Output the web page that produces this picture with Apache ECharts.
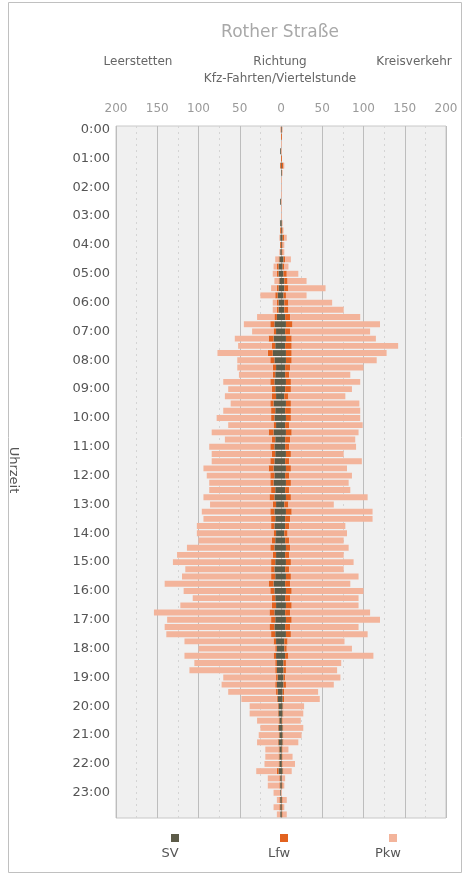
<!DOCTYPE html>
<html>
<head>
<meta charset="utf-8">
<script src="https://cdn.jsdelivr.net/npm/echarts@6/dist/echarts.min.js"></script>
<style>
html,body{margin:0;padding:0;background:#fff;}
#chart{width:466px;height:877px;}
</style>
</head>
<body>
<div id="chart"></div>
<script>
// Hour labels shown on the time axis (one per 4 quarter-hour slots)
const hourLabels = ['0:00','01:00','02:00','03:00','04:00','05:00','06:00','07:00','08:00','09:00','10:00','11:00',
  '12:00','13:00','14:00','15:00','16:00','17:00','18:00','19:00','20:00','21:00','22:00','23:00'];
const xTickLabels = ['200','150','100','50','0','50','100','150','200'];
const seriesNames = ['SV','Lfw','Pkw'];

// Direction Leerstetten (drawn to the left), vehicles per quarter hour
const leftSV = [0,0,0,1,0,0,0,0,0,0,1,0,0,1,0,1,0,1,
  2,3,3,2,3,4,
  3,3,5,8,6,9,7,10,
  8,6,7,8,7,6,9,7,8,6,9,7,8,7,8,9,
  8,9,7,8,6,8,7,8,6,7,8,6,7,8,7,9,
  8,7,6,8,7,8,7,6,5,6,5,5,4,5,4,4,
  3,3,2,3,2,3,2,2,2,3,1,1,1,1,1,1];
const leftLfw = [0,0,0,0,0,1,0,0,0,0,0,0,0,0,1,0,1,0,
  1,2,2,1,2,3,
  2,2,3,5,3,6,4,6,
  5,4,3,5,4,5,4,5,4,3,6,4,5,4,5,6,
  5,4,5,6,4,5,5,4,3,4,5,4,5,4,5,6,
  5,4,5,6,5,6,5,3,2,3,2,2,2,2,2,1,
  1,1,1,1,1,1,1,1,1,2,1,1,0,1,1,0];
const leftPkw = [1,0,0,0,0,0,0,0,0,0,0,0,0,0,0,1,0,1,
  4,4,5,5,7,18,
  5,5,21,32,26,41,41,61,
  40,43,41,57,53,57,48,58,66,55,69,57,74,73,71,79,
  77,74,75,80,76,83,82,90,93,89,101,116,119,104,108,126,
  105,96,111,140,126,127,127,108,93,108,98,104,64,65,58,43,
  34,34,26,21,24,25,16,16,17,25,14,14,8,3,7,4];

// Direction Kreisverkehr (drawn to the right)
const rightSV = [1,0,0,0,0,1,1,0,0,0,0,0,0,1,1,2,1,1,
  3,2,3,4,4,3,
  4,4,5,6,5,6,5,6,
  6,5,5,6,5,4,6,5,6,5,6,5,5,6,5,6,
  5,6,5,6,4,6,5,5,4,5,6,5,6,5,6,5,
  6,5,6,5,6,5,6,4,4,5,3,3,3,3,2,2,
  2,2,1,2,2,2,1,1,1,2,1,1,0,1,1,1];
const rightLfw = [0,1,0,0,1,2,0,0,0,0,0,0,0,0,1,2,1,1,
  2,2,4,4,5,3,
  5,5,6,8,6,7,8,7,
  7,6,5,6,7,5,6,7,6,5,7,6,5,6,5,6,
  5,6,5,6,5,7,6,5,4,5,5,5,6,5,6,6,
  7,6,7,6,7,6,6,4,3,4,3,3,2,3,2,2,
  1,1,1,1,1,1,1,1,1,1,0,1,0,1,1,1];
const rightPkw = [1,0,1,1,0,1,1,1,1,1,1,1,1,1,1,3,2,2,
  7,5,14,23,45,25,
  53,67,85,106,97,102,129,115,
  103,89,74,84,74,69,83,84,84,89,81,79,81,64,88,68,
  76,70,74,93,55,98,100,68,72,66,71,66,76,66,82,73,
  87,83,81,97,107,83,93,69,79,103,67,62,67,58,41,43,
  25,24,22,24,22,18,7,12,15,10,4,2,1,5,2,5];

const colors = {SV:'#5c5b48', Lfw:'#e2621f', Pkw:'#f3b49b'};

const categories = [];
for (let h = 0; h < 24; h++) for (let q = 0; q < 4; q++) categories.push(h + ':' + (q * 15 === 0 ? '00' : q * 15));

const FONT = 'DejaVu Sans';
const chart = echarts.init(document.getElementById('chart'), null, {renderer:'canvas'});

function barSeries(name, data, sign) {
  return {
    name: name, type: 'bar', stack: 'total', barCategoryGap: '18%',
    data: data.map(v => sign * v),
    itemStyle: {color: colors[name]},
    emphasis: {disabled: true},
    animation: false
  };
}

const legends = seriesNames.map((n, i) => ({
  data: [n], left: 166 + i * 109, top: 829, icon: 'rect', itemWidth: 8, itemHeight: 8,
  formatter: () => '', selectedMode: false
}));

const option = {
  backgroundColor: '#fff',
  animation: false,
  grid: {left: 116, right: 20, top: 126, height: 692, show: true, backgroundColor: '#f0f0f0', borderColor: '#c8c8c8', borderWidth: 1},
  legend: legends,
  xAxis: {
    type: 'value', position: 'top', min: -200, max: 200, interval: 50,
    axisLine: {show: false}, axisTick: {show: false},
    axisLabel: {color: '#9a9a9a', fontSize: 12, fontFamily: FONT, margin: 11,
      formatter: (v) => xTickLabels[Math.round((v + 200) / 50)]},
    splitLine: {show: true, lineStyle: {color: '#bdbdbd', width: 1}},
    minorTick: {show: false, splitNumber: 2},
    minorSplitLine: {show: true, lineStyle: {color: '#d4d4d4', type: [2, 4], width: 1}}
  },
  yAxis: {
    type: 'category', data: categories, inverse: true,
    axisLine: {show: false}, axisTick: {show: false},
    axisLabel: {interval: 3, color: '#555', fontSize: 13, fontFamily: FONT, margin: 6,
      formatter: (v, i) => hourLabels[Math.floor(i / 4)]},
    splitLine: {show: false}
  },
  series: [
    barSeries('SV', leftSV, -1), barSeries('Lfw', leftLfw, -1), barSeries('Pkw', leftPkw, -1),
    barSeries('SV', rightSV, 1), barSeries('Lfw', rightLfw, 1), barSeries('Pkw', rightPkw, 1)
  ],
  graphic: [
    {type: 'rect', shape: {x: 8.5, y: 2.5, width: 453, height: 870}, style: {fill: 'none', stroke: '#c0c0c0', lineWidth: 1}, silent: true},
    {type: 'text', x: 280, y: 33, style: {text: 'Rother Straße', fill: '#a8a8a8', font: '17px "' + FONT + '"', textAlign: 'center', textVerticalAlign: 'middle'}},
    {type: 'text', x: 138, y: 62, style: {text: 'Leerstetten', fill: '#666', font: '12px "' + FONT + '"', textAlign: 'center', textVerticalAlign: 'middle'}},
    {type: 'text', x: 280, y: 62, style: {text: 'Richtung', fill: '#666', font: '12px "' + FONT + '"', textAlign: 'center', textVerticalAlign: 'middle'}},
    {type: 'text', x: 280, y: 79, style: {text: 'Kfz-Fahrten/Viertelstunde', fill: '#666', font: '12px "' + FONT + '"', textAlign: 'center', textVerticalAlign: 'middle'}},
    {type: 'text', x: 414, y: 62, style: {text: 'Kreisverkehr', fill: '#666', font: '12px "' + FONT + '"', textAlign: 'center', textVerticalAlign: 'middle'}},
    {type: 'text', x: 13, y: 470, rotation: -Math.PI / 2, style: {text: 'Uhrzeit', fill: '#555', font: '13px "' + FONT + '"', textAlign: 'center', textVerticalAlign: 'middle'}},
    {type: 'text', x: 170, y: 854, style: {text: 'SV', fill: '#555', font: '13px "' + FONT + '"', textAlign: 'center', textVerticalAlign: 'middle'}},
    {type: 'text', x: 279, y: 854, style: {text: 'Lfw', fill: '#555', font: '13px "' + FONT + '"', textAlign: 'center', textVerticalAlign: 'middle'}},
    {type: 'text', x: 388, y: 854, style: {text: 'Pkw', fill: '#555', font: '13px "' + FONT + '"', textAlign: 'center', textVerticalAlign: 'middle'}}
  ]
};
chart.setOption(option);
</script>
</body>
</html>
